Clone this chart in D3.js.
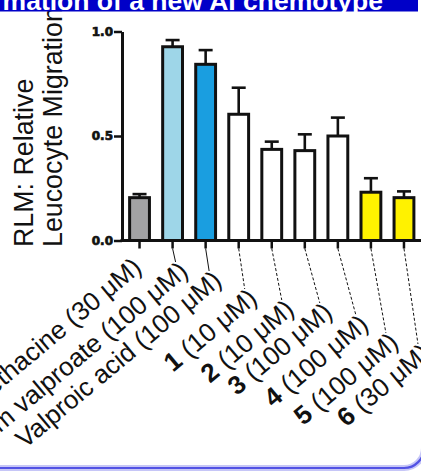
<!DOCTYPE html>
<html>
<head>
<meta charset="utf-8">
<script src="https://cdn.jsdelivr.net/npm/d3@7"></script>
<style>
  html, body { margin: 0; padding: 0; background: #fff; overflow: hidden; }
  svg { display: block; }
</style>
</head>
<body>
<div id="chart"></div>
<script>
// data
const names = ["Indomethacine", "Sodium valproate", "Valproic acid", "1", "2", "3", "4", "5", "6"];
const doses = ["30 μM", "100 μM", "100 μM", "10 μM", "10 μM", "100 μM", "100 μM", "100 μM", "30 μM"];
const isCompound = [false, false, false, true, true, true, true, true, true];
const rlm = [0.205, 0.927, 0.843, 0.604, 0.436, 0.43, 0.5, 0.231, 0.205];
const sem = [0.017, 0.032, 0.068, 0.127, 0.037, 0.078, 0.088, 0.067, 0.03];
const yTicks = [0, 0.5, 1.0];
const yTitle = ["RLM: Relative", "Leucocyte Migration"];
const title = "Confirmation of a new AI chemotype";

// styles / layout
const barColors = ["#a2a2a4", "#9ed6e8", "#1a9ee0", "#fff", "#fff", "#fff", "#fff", "#fff200", "#fff200"];
// where each rotated label ends, relative to its tick (hand placed in the original)
const labelDx = [3.5, 17, 17.5, 20, 24, 29, 32, 29, 28];
const labelDy = [29.5, 33.5, 42.5, 60.5, 71.5, 74.5, 86.5, 104.5, 115.5];

const width = 421, height = 473;
const axisX = 122, axisY = 240.5;
const font = "Arial, 'Liberation Sans', sans-serif";

const svg = d3.select('#chart').append('svg')
    .attr('width', width)
    .attr('height', height);

// rounded slide frame (only bottom + corner visible)
svg.append('rect')
    .attr('x', -30).attr('y', -30)
    .attr('width', 454).attr('height', 498)
    .attr('rx', 20)
    .attr('fill', 'none')
    .attr('stroke', '#c6c6f7')
    .attr('stroke-width', 6);
svg.append('rect')
    .attr('x', -30).attr('y', -30)
    .attr('width', 454).attr('height', 498)
    .attr('rx', 20)
    .attr('fill', 'none')
    .attr('stroke', '#5252e4')
    .attr('stroke-width', 2.2);

// scales
const x = d3.scaleBand()
    .domain(names)
    .range([123, 420.5])
    .paddingInner(0.4)
    .paddingOuter(0.2);

const y = d3.scaleLinear()
    .domain([0, 1])
    .range([axisY, 31.5]);

// bars
const bars = svg.append('g').classed('bars', true);

bars.selectAll('rect')
    .data(names)
    .enter()
    .append('rect')
    .attr('x', d => x(d))
    .attr('width', x.bandwidth())
    .attr('y', (d, i) => y(rlm[i]))
    .attr('height', (d, i) => y(0) - y(rlm[i]))
    .style('fill', (d, i) => barColors[i])
    .style('stroke', '#111')
    .style('stroke-width', 3);

// error bars (upper half only)
const err = svg.append('g').classed('errors', true)
    .selectAll('g')
    .data(names)
    .enter()
    .append('g')
    .attr('transform', d => 'translate(' + (x(d) + x.bandwidth() / 2) + ',0)');

err.append('line')
    .attr('x1', 0).attr('x2', 0)
    .attr('y1', (d, i) => y(rlm[i]))
    .attr('y2', (d, i) => y(rlm[i] + sem[i]))
    .style('stroke', '#111')
    .style('stroke-width', 2.6);

err.append('line')
    .attr('x1', -7).attr('x2', 7)
    .attr('y1', (d, i) => y(rlm[i] + sem[i]))
    .attr('y2', (d, i) => y(rlm[i] + sem[i]))
    .style('stroke', '#111')
    .style('stroke-width', 2.6);

// y axis
const yAxisG = svg.append('g')
    .attr('transform', 'translate(' + axisX + ',0)')
    .call(d3.axisLeft(y).tickValues(yTicks).tickSize(8).tickSizeOuter(0).tickFormat(d3.format('.1f')));

yAxisG.select('.domain').style('stroke', '#111').style('stroke-width', 3);
yAxisG.selectAll('.tick line').style('stroke', '#111').style('stroke-width', 2.5);
yAxisG.selectAll('.tick text')
    .attr('x', -9)
    .style('font-family', "'DejaVu Sans', sans-serif")
    .style('font-weight', 'bold')
    .style('font-size', '12px')
    .style('fill', '#111')
    .style('stroke', '#111')
    .style('stroke-width', 0.7);

// x axis
svg.append('line')
    .attr('x1', axisX - 1.5).attr('x2', width + 5)
    .attr('y1', axisY).attr('y2', axisY)
    .style('stroke', '#111')
    .style('stroke-width', 3);

const xAxisG = svg.append('g')
    .attr('transform', 'translate(0,' + axisY + ')')
    .call(d3.axisBottom(x).tickSize(8).tickSizeOuter(0).tickFormat(''));

xAxisG.select('.domain').remove();
xAxisG.selectAll('.tick line').style('stroke', '#111').style('stroke-width', 2.5);

// leader lines from ticks to the labels
const leaders = svg.append('g').classed('leaders', true);
names.forEach((d, i) => {
    if (i === 0) return;
    const cx = x(d) + x.bandwidth() / 2;
    leaders.append('line')
        .attr('x1', cx).attr('y1', axisY + 8)
        .attr('x2', cx + labelDx[i] - 14)
        .attr('y2', axisY + labelDy[i] - 12)
        .style('stroke', '#111')
        .style('stroke-width', 1)
        .style('stroke-dasharray', isCompound[i] ? '3,2' : null);
});

// category labels
const labels = svg.append('g').classed('labels', true)
    .selectAll('text')
    .data(names)
    .enter()
    .append('text')
    .attr('transform', (d, i) => 'translate(' + (x(d) + x.bandwidth() / 2 + labelDx[i]) + ',' + (axisY + labelDy[i]) + ') rotate(-40)')
    .style('text-anchor', 'end')
    .style('font-family', font)
    .style('font-size', '26px')
    .style('fill', '#111');

labels.append('tspan')
    .style('font-weight', (d, i) => isCompound[i] ? 'bold' : 'normal')
    .text(d => d);
labels.append('tspan')
    .text((d, i) => ' (' + doses[i] + ')');

// y title, two lines
yTitle.forEach((t, i) => {
    svg.append('text')
        .attr('transform', 'translate(' + (33 + i * 29) + ',247) rotate(-90)')
        .style('font-family', font)
        .style('font-size', '26.8px')
        .style('fill', '#111')
        .text(t);
});

// title banner, mostly cut off at the top
svg.append('rect')
    .attr('x', 0).attr('y', -20)
    .attr('width', 418).attr('height', 31.5)
    .style('fill', '#0000c8');

svg.append('text')
    .attr('x', 383).attr('y', 10)
    .style('text-anchor', 'end')
    .style('font-family', font)
    .style('font-weight', 'bold')
    .style('font-size', '26.5px')
    .style('fill', '#fff')
    .text(title);
</script>
</body>
</html>
